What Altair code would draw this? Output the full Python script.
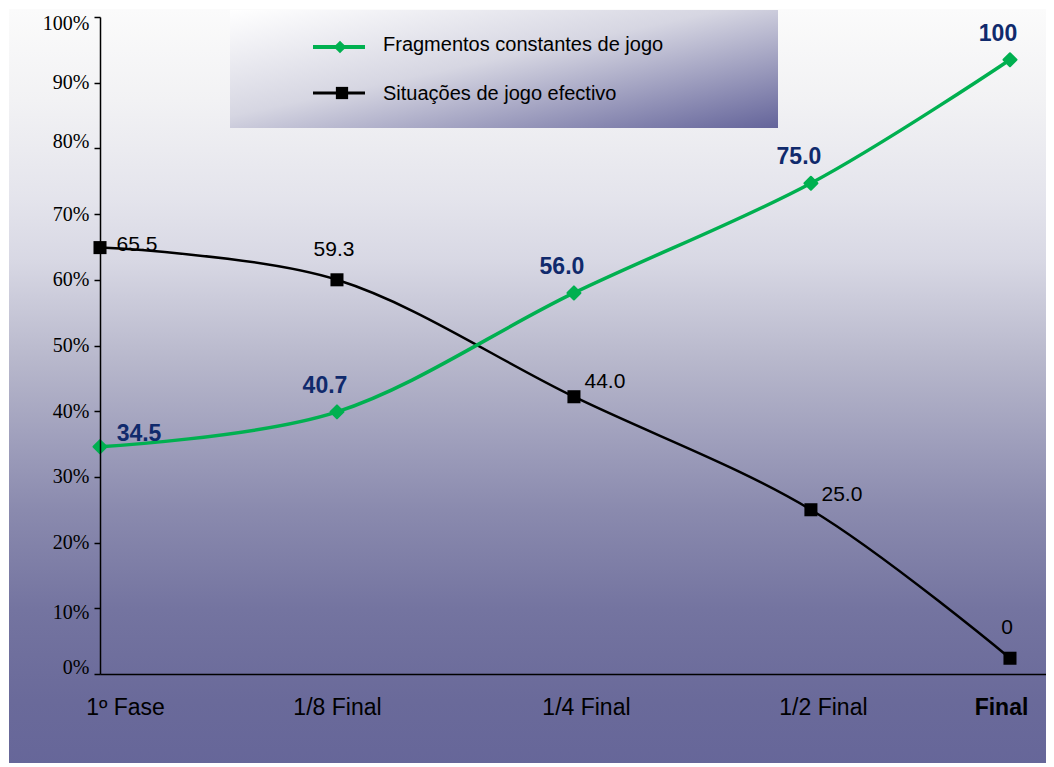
import altair as alt
import pandas as pd

# ---- data ----
stages = ["1º Fase", "1/8 Final", "1/4 Final", "1/2 Final", "Final"]
stage_pos = [0, 1, 2, 3, 3.84]
series_names = ["Fragmentos constantes de jogo", "Situações de jogo efectivo"]
frag_values = [34.6, 39.9, 58.0, 74.7, 93.5]
frag_labels = ["34.5", "40.7", "56.0", "75.0", "100"]
sit_values = [64.9, 60.0, 42.2, 25.0, 2.4]
sit_labels = ["65.5", "59.3", "44.0", "25.0", "0"]
y_ticks = [0, 10, 20, 30, 40, 50, 60, 70, 80, 90, 100]

GREEN = "#00b050"
NAVY = "#102a6c"
SANS = "Liberation Sans"
SERIF = "Liberation Serif"

rows = []
for name, vals, labs in [(series_names[0], frag_values, frag_labels),
                         (series_names[1], sit_values, sit_labels)]:
    for i, (st, p, v, l) in enumerate(zip(stages, stage_pos, vals, labs)):
        rows.append({"series": name, "stage": st, "pos": p, "value": v,
                     "label": l, "idx": i})
df = pd.DataFrame(rows)
frag = df[df.series == series_names[0]]
sit = df[df.series == series_names[1]]

names_js = "[" + ",".join("'" + s + "'" for s in stages) + "]"
pos_js = "[" + ",".join(str(p) for p in stage_pos) + "]"

x_enc = alt.X(
    "pos:Q",
    scale=alt.Scale(domain=[0, 3.992], nice=False, zero=False),
    axis=alt.Axis(
        title=None, values=stage_pos, ticks=False, tickSize=0, grid=False,
        labelExpr=f"{names_js}[indexof({pos_js}, datum.value)]",
        labelOverlap=False, labelFlush=False, labelBound=False,
        labelFont=SANS, labelFontSize=23, labelColor="black",
        labelPadding=22, zindex=2,
        labelOffset={"expr": "datum.value == 0 ? 25 : (datum.value == 1 ? 0 : (datum.value > 3.5 ? -9 : 12))"},
        labelFontWeight={"expr": "datum.value > 3.5 ? 'bold' : 'normal'"},
        domainColor="black", domainWidth=1.5,
    ),
)
y_enc = alt.Y(
    "value:Q",
    scale=alt.Scale(domain=[0, 100], nice=False),
    axis=alt.Axis(
        title=None, values=y_ticks, grid=False, zindex=2,
        labelExpr="datum.value + '%'",
        labelFont=SERIF, labelFontSize=20, labelColor="black",
        labelPadding=5, tickSize=6, tickColor="black", tickWidth=1.5,
        labelOffset={"expr": "datum.value == 100 ? 6 : (datum.value == 80 ? -7 : (datum.value == 10 ? 4 : (datum.value == 0 ? -7 : 0)))"},
        domainColor="black", domainWidth=1.5, labelOverlap=False,
        labelBound=False, labelFlush=False,
    ),
)

one = pd.DataFrame({"a": [0]})

bg_grad = alt.LinearGradient(
    gradient="linear", x1=0, y1=0, x2=0, y2=1,
    stops=[
        alt.GradientStop(offset=0, color="#fbfbfb"),
        alt.GradientStop(offset=0.12, color="#f2f2f4"),
        alt.GradientStop(offset=0.25, color="#e4e4ec"),
        alt.GradientStop(offset=0.33, color="#d8d8e4"),
        alt.GradientStop(offset=0.46, color="#b8b8cc"),
        alt.GradientStop(offset=0.58, color="#9c9cba"),
        alt.GradientStop(offset=0.66, color="#8a8aae"),
        alt.GradientStop(offset=0.79, color="#7474a0"),
        alt.GradientStop(offset=0.91, color="#6a6a9a"),
        alt.GradientStop(offset=1, color="#666699"),
    ],
)
legend_grad = alt.LinearGradient(
    gradient="linear", x1=0, y1=0, x2=1, y2=1,
    stops=[
        alt.GradientStop(offset=0, color="#ffffff"),
        alt.GradientStop(offset=0.45, color="#d6d6e2"),
        alt.GradientStop(offset=1, color="#64649a"),
    ],
)

background = alt.Chart(one).mark_rect(color=bg_grad, clip=False).encode(
    x=alt.value(-91), x2=alt.value(956), y=alt.value(-8), y2=alt.value(752)
)

legend_box = alt.Chart(one).mark_rect(color=legend_grad).encode(
    x=alt.value(130), x2=alt.value(678), y=alt.value(-7), y2=alt.value(111)
)
leg_line1 = alt.Chart(one).mark_rule(color=GREEN, strokeWidth=4).encode(
    x=alt.value(213), x2=alt.value(265), y=alt.value(30)
)
leg_pt1 = alt.Chart(one).mark_point(shape="diamond", filled=True, size=160,
                                    color=GREEN, opacity=1).encode(
    x=alt.value(240), y=alt.value(30)
)
leg_line2 = alt.Chart(one).mark_rule(color="black", strokeWidth=3).encode(
    x=alt.value(213), x2=alt.value(265), y=alt.value(76)
)
leg_pt2 = alt.Chart(one).mark_point(shape="square", filled=True, size=150,
                                    color="black", opacity=1).encode(
    x=alt.value(242), y=alt.value(76)
)
leg_txt1 = alt.Chart(one).mark_text(text=series_names[0], align="left",
                                    baseline="middle", font=SANS, fontSize=20,
                                    color="black").encode(
    x=alt.value(283), y=alt.value(28)
)
leg_txt2 = alt.Chart(one).mark_text(text=series_names[1], align="left",
                                    baseline="middle", font=SANS, fontSize=20,
                                    color="black").encode(
    x=alt.value(283), y=alt.value(77)
)

frag_line = alt.Chart(frag).mark_line(color=GREEN, strokeWidth=3.5,
                                      interpolate="cardinal").encode(
    x=x_enc, y=y_enc, order="idx:Q")
sit_line = alt.Chart(sit).mark_line(color="black", strokeWidth=2.5,
                                    interpolate="cardinal").encode(
    x=x_enc, y=y_enc, order="idx:Q")
frag_pts = alt.Chart(frag).mark_point(shape="diamond", filled=True, size=170,
                                      color=GREEN, opacity=1,
                                      stroke=GREEN, strokeWidth=2,
                                      strokeJoin="round").encode(x=x_enc, y=y_enc)
sit_pts = alt.Chart(sit).mark_point(shape="square", filled=True, size=170,
                                    color="black", opacity=1).encode(x=x_enc, y=y_enc)


def lab(data, cond, dx, dy, bold, color, size):
    return alt.Chart(data).transform_filter(cond).mark_text(
        dx=dx, dy=dy, font=SANS, fontSize=size,
        fontWeight="bold" if bold else "normal", color=color,
        align="center", baseline="middle",
    ).encode(x=x_enc, y=y_enc, text="label:N")


labels = [
    lab(frag, "datum.idx == 0", 39, -13, True, NAVY, 23),
    lab(frag, "datum.idx > 0", -12, -26, True, NAVY, 23),
    lab(sit, "datum.idx == 0", 37, -3, False, "black", 21),
    lab(sit, "datum.idx == 1 || datum.idx == 4", -3, -30, False, "black", 21),
    lab(sit, "datum.idx == 2 || datum.idx == 3", 31, -15, False, "black", 21),
]

chart = alt.layer(
    background, legend_box, leg_line1, leg_pt1, leg_line2, leg_pt2,
    leg_txt1, leg_txt2, sit_line, frag_line, sit_pts, frag_pts, *labels
).properties(
    width=946, height=657,
    autosize=alt.AutoSizeParams(type="none"),
    padding={"left": 92, "top": 9, "right": 0, "bottom": 89},
    background="white",
).configure_view(stroke=None)

chart.save("out.html", embed_options={"renderer": "svg", "actions": False})
